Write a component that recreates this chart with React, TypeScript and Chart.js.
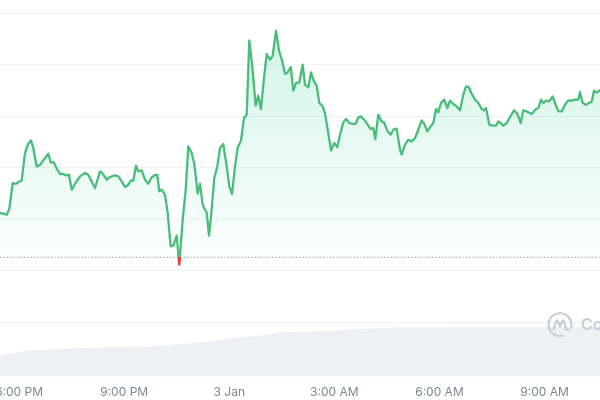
import React, { useEffect, useRef } from 'react';
import { Chart, registerables } from 'chart.js';

Chart.register(...registerables);

// Time in hours after 6:00 PM (2 Jan); price in chart units (one gridline step = 1)
const times = [
  -0.545, -0.451, -0.354, -0.28, -0.183, -0.088, -0.023, 0.074, 0.168, 0.263,
  0.34, 0.405, 0.502, 0.597, 0.691, 0.834, 0.902, 0.996, 1.073, 1.168,
  1.262, 1.339, 1.424, 1.502, 1.596, 1.739, 1.881, 1.975, 2.167, 2.309,
  2.387, 2.501, 2.595, 2.738, 2.832, 2.929, 3.023, 3.117, 3.194, 3.26,
  3.337, 3.403, 3.5, 3.594, 3.688, 3.785, 3.88, 3.945, 4.002, 4.071,
  4.165, 4.242, 4.328, 4.402, 4.499, 4.573, 4.67, 4.756, 4.83, 4.927,
  5.001, 5.098, 5.164, 5.241, 5.307, 5.355, 5.421, 5.498, 5.572, 5.658,
  5.735, 5.829, 5.926, 6.001, 6.078, 6.163, 6.24, 6.335, 6.42, 6.497,
  6.572, 6.657, 6.754, 6.828, 6.905, 6.991, 7.068, 7.162, 7.24, 7.334,
  7.419, 7.496, 7.591, 7.656, 7.753, 7.828, 7.905, 7.999, 8.096, 8.162,
  8.256, 8.333, 8.418, 8.496, 8.57, 8.656, 8.733, 8.827, 8.904, 8.998,
  9.084, 9.161, 9.255, 9.332, 9.426, 9.54, 9.609, 9.683, 9.76, 9.874,
  9.969, 10.037, 10.111, 10.168, 10.254, 10.351, 10.417, 10.511, 10.608, 10.682,
  10.779, 10.874, 10.922, 11.016, 11.11, 11.208, 11.302, 11.396, 11.493, 11.567,
  11.653, 11.75, 11.824, 11.901, 11.967, 12.044, 12.138, 12.224, 12.301, 12.395,
  12.492, 12.586, 12.681, 12.758, 12.835, 12.92, 13.015, 13.109, 13.206, 13.271,
  13.329, 13.423, 13.52, 13.614, 13.68, 13.728, 13.823, 13.92, 14.014, 14.128,
  14.222, 14.319, 14.393, 14.49, 14.633, 14.756, 14.822, 14.899, 14.964, 15.042,
  15.136, 15.233, 15.298, 15.393, 15.49, 15.584, 15.678, 15.775, 15.869, 15.964,
  16.012, 16.089, 16.183, 16.297, 16.346, 16.412, 16.489, 16.583,
];

const prices = [
  2.117, 2.103, 2.083, 2.194, 2.699, 2.68, 2.718, 2.744, 3.282, 3.462,
  3.526, 3.379, 3.021, 3.049, 3.138, 3.268, 3.099, 3.099, 2.977, 2.874,
  2.874, 2.847, 2.86, 2.569, 2.685, 2.827, 2.893, 2.86, 2.602, 2.924,
  2.88, 2.763, 2.816, 2.847, 2.827, 2.73, 2.621, 2.666, 2.75, 2.744,
  3.035, 2.924, 2.944, 2.763, 2.685, 2.808, 2.854, 2.854, 2.536, 2.569,
  2.472, 2.117, 1.468, 1.482, 1.676, 1.113, 1.986, 2.569, 3.41, 3.282,
  3.074, 2.491, 2.685, 2.278, 2.181, 2.128, 1.676, 2.194, 2.796, 3.021,
  3.379, 3.456, 3.021, 2.633, 2.485, 3.021, 3.39, 3.52, 3.961, 4.025,
  5.468, 4.963, 4.2, 4.394, 4.136, 4.738, 5.204, 5.093, 5.171, 5.656,
  5.268, 5.107, 4.821, 4.835, 4.951, 4.491, 4.641, 4.652, 4.996, 4.608,
  4.555, 4.847, 4.672, 4.588, 4.252, 4.2, 4.045, 3.67, 3.332, 3.476,
  3.398, 3.637, 3.876, 3.942, 3.864, 3.845, 3.85, 3.973, 3.992, 3.909,
  3.812, 3.748, 3.767, 3.553, 4.025, 3.895, 3.876, 3.715, 3.637, 3.734,
  3.753, 3.346, 3.249, 3.443, 3.54, 3.507, 3.573, 3.734, 3.915, 3.85,
  3.701, 3.798, 3.864, 4.136, 4.07, 4.252, 4.317, 4.155, 4.297, 4.233,
  4.186, 4.109, 4.414, 4.575, 4.563, 4.433, 4.317, 4.252, 4.136, 4.109,
  4.155, 3.831, 3.812, 3.812, 3.895, 3.876, 3.812, 3.864, 3.981, 4.109,
  4.045, 3.864, 4.109, 4.089, 4.039, 4.136, 4.155, 4.317, 4.252, 4.297,
  4.283, 4.381, 4.252, 4.089, 4.089, 4.219, 4.303, 4.297, 4.317, 4.317,
  4.466, 4.252, 4.219, 4.264, 4.283, 4.491, 4.458, 4.497,
];

const openPrice = 1.254;

const volumeTimes = [
  -0.545, 0.311, 0.882, 2.309, 3.737, 4.308, 4.593, 5.164, 6.106, 7.076,
  7.362, 8.018, 8.96, 9.446, 10.874, 12.301, 13.728, 15.155, 16.583,
];
const volumes = [
  5.97, 7.15, 7.54, 8.09, 8.25, 8.64, 8.99, 9.35, 10.64, 11.47,
  12.1, 12.38, 12.57, 13.04, 13.48, 13.59, 13.61, 13.64, 13.64,
];

const tickHours = [0, 3, 6, 9, 12, 15];
const tickLabels = ['6:00 PM', '9:00 PM', '3 Jan', '3:00 AM', '6:00 AM', '9:00 AM'];
const priceGridValues = [0, 1, 2, 3, 4, 5, 6];
const xMin = -0.545;
const xMax = 16.583;

const GREEN = 'rgb(72,190,122)';
const RED = '#ea3943';

const watermarkPlugin = {
  id: 'cmcWatermark',
  afterDatasetsDraw(chart: any) {
    const { ctx, chartArea } = chart;
    const cx = chartArea.right - 40;
    const cy = chartArea.bottom - 52;
    ctx.save();
    ctx.strokeStyle = '#c8cdd8';
    ctx.fillStyle = '#c8cdd8';
    ctx.lineWidth = 2.2;
    ctx.lineCap = 'round';
    ctx.lineJoin = 'round';
    ctx.beginPath();
    ctx.arc(cx, cy, 11.5, 0.42 * Math.PI, 2.08 * Math.PI);
    ctx.stroke();
    ctx.beginPath();
    ctx.moveTo(cx - 6.5, cy + 5);
    ctx.lineTo(cx - 4, cy - 3);
    ctx.quadraticCurveTo(cx - 3, cy - 5.5, cx - 2, cy - 3);
    ctx.lineTo(cx, cy + 2);
    ctx.lineTo(cx + 2, cy - 3);
    ctx.quadraticCurveTo(cx + 3, cy - 5.5, cx + 4, cy - 3);
    ctx.lineTo(cx + 5.5, cy + 3);
    ctx.quadraticCurveTo(cx + 6.5, cy + 6, cx + 9, cy + 5);
    ctx.stroke();
    ctx.font = '600 16px Inter';
    ctx.textBaseline = 'middle';
    ctx.textAlign = 'left';
    ctx.fillText('CoinMarketCap', cx + 21, cy + 1);
    ctx.restore();
  },
};

export default function App() {
  const canvasRef = useRef<HTMLCanvasElement | null>(null);

  useEffect(() => {
    if (!canvasRef.current) return;
    const priceData = times.map((t, i) => ({ x: t, y: prices[i] }));
    const volumeData = volumeTimes.map((t, i) => ({ x: t, y: volumes[i] }));
    const baseData = [
      { x: xMin, y: openPrice },
      { x: xMax, y: openPrice },
    ];

    const chart = new Chart(canvasRef.current, {
      type: 'line',
      data: {
        datasets: [
          {
            data: priceData,
            yAxisID: 'y',
            borderWidth: 2.3,
            borderJoinStyle: 'round',
            borderCapStyle: 'round',
            pointRadius: 0,
            tension: 0,
            borderColor: (context: any) => {
              const c = context.chart;
              const area = c.chartArea;
              if (!area) return GREEN;
              const baseY = c.scales.y.getPixelForValue(openPrice);
              const g = c.ctx.createLinearGradient(0, area.top, 0, area.bottom);
              const p = Math.min(1, Math.max(0, (baseY - area.top) / (area.bottom - area.top)));
              g.addColorStop(0, GREEN);
              g.addColorStop(p, GREEN);
              g.addColorStop(p, RED);
              g.addColorStop(1, RED);
              return g;
            },
            backgroundColor: (context: any) => {
              const c = context.chart;
              const area = c.chartArea;
              if (!area) return 'rgba(22,199,132,0.1)';
              const baseY = c.scales.y.getPixelForValue(openPrice);
              const g = c.ctx.createLinearGradient(0, area.top, 0, baseY);
              g.addColorStop(0, 'rgba(22,199,132,0.2)');
              g.addColorStop(1, 'rgba(22,199,132,0.02)');
              return g;
            },
            fill: { target: { value: openPrice }, below: 'rgba(234,57,67,0.12)' },
          } as any,
          {
            data: baseData,
            yAxisID: 'y',
            borderColor: '#a3a9b6',
            borderWidth: 1.2,
            borderDash: [1.2, 2.2],
            pointRadius: 0,
            fill: false,
          },
          {
            data: volumeData,
            yAxisID: 'yv',
            borderWidth: 0,
            borderColor: 'rgba(0,0,0,0)',
            backgroundColor: '#eff0f4',
            pointRadius: 0,
            tension: 0,
            fill: 'origin',
          },
        ],
      },
      options: {
        responsive: false,
        animation: false,
        events: [],
        layout: { autoPadding: false, padding: { top: 13, left: 0, right: 0, bottom: 0 } },
        plugins: { legend: { display: false }, tooltip: { enabled: false } },
        scales: {
          x: {
            type: 'linear',
            min: xMin,
            max: xMax,
            grid: { display: false, drawTicks: false },
            border: { display: false },
            afterBuildTicks: (axis: any) => {
              axis.ticks = tickHours.map((v) => ({ value: v }));
            },
            afterFit: (axis: any) => {
              axis.paddingLeft = 0;
              axis.paddingRight = 0;
              axis.paddingTop = 0;
              axis.paddingBottom = 0;
              axis.height = 23.4;
            },
            ticks: {
              padding: 9,
              maxRotation: 0,
              autoSkip: false,
              color: '#7d8699',
              font: { family: 'Inter', size: 12 },
              callback: (_v: any, i: number) => tickLabels[i],
            },
          },
          y: {
            type: 'linear',
            min: -1.06,
            max: 6,
            grid: { color: '#eff1f4', lineWidth: 1, drawTicks: false },
            border: { display: false },
            afterBuildTicks: (axis: any) => {
              axis.ticks = priceGridValues.map((v) => ({ value: v }));
            },
            afterFit: (axis: any) => {
              axis.width = 0;
              axis.paddingLeft = 0;
              axis.paddingRight = 0;
              axis.paddingTop = 0;
              axis.paddingBottom = 0;
            },
            ticks: { display: false },
          },
          yv: {
            type: 'linear',
            display: false,
            min: 0,
            max: 100,
          },
        },
      } as any,
      plugins: [watermarkPlugin],
    });
    return () => chart.destroy();
  }, []);

  return (
    <div style={{ position: 'fixed', left: 0, top: 0, width: 600, height: 400, background: '#fff' }}>
      <canvas ref={canvasRef} width={600} height={400} style={{ display: 'block' }} />
    </div>
  );
}
